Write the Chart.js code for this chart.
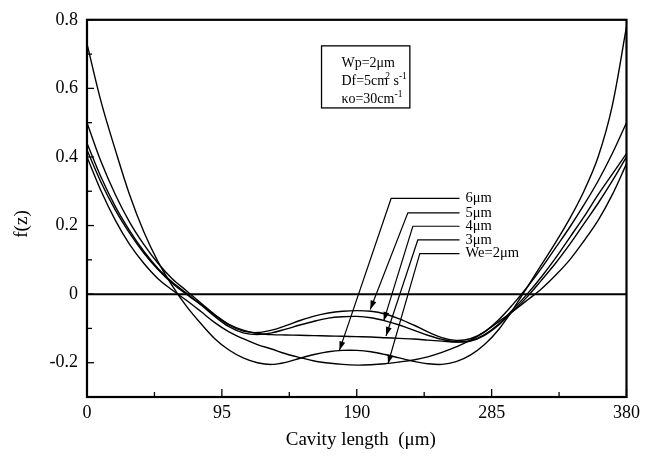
<!DOCTYPE html>
<html><head><meta charset="utf-8">
<script src="https://cdn.jsdelivr.net/npm/chart.js@4.4.0/dist/chart.umd.min.js"></script>
<style>html,body{margin:0;padding:0;background:#fff}</style>
</head><body>
<canvas id="c" width="645" height="457"></canvas>
<script>
// ---- data ----
const z = [0,10,20,30,40,50,60,70,80,90,100,110,120,130,140,150,160,170,180,190,200,210,220,230,240,250,260,270,280,290,300,310,320,330,340,350,360,370,380];
const we6 = [0.73,0.56,0.42,0.29,0.182,0.095,0.025,-0.035,-0.085,-0.13,-0.163,-0.186,-0.200,-0.205,-0.199,-0.187,-0.176,-0.168,-0.164,-0.164,-0.168,-0.176,-0.186,-0.196,-0.203,-0.205,-0.197,-0.178,-0.147,-0.103,-0.045,0.02,0.085,0.15,0.22,0.30,0.40,0.55,0.78];
const we5 = [0.50,0.385,0.29,0.21,0.145,0.09,0.045,0.01,-0.025,-0.06,-0.09,-0.108,-0.112,-0.105,-0.092,-0.077,-0.064,-0.055,-0.05,-0.048,-0.05,-0.058,-0.072,-0.09,-0.11,-0.127,-0.135,-0.13,-0.11,-0.075,-0.03,0.02,0.075,0.135,0.195,0.26,0.33,0.41,0.50];
const we4 = [0.44,0.34,0.255,0.185,0.125,0.075,0.035,0.003,-0.03,-0.065,-0.095,-0.113,-0.118,-0.113,-0.102,-0.09,-0.079,-0.07,-0.066,-0.065,-0.069,-0.078,-0.09,-0.105,-0.12,-0.132,-0.139,-0.136,-0.118,-0.087,-0.045,0.0,0.05,0.105,0.165,0.225,0.29,0.35,0.41];
const we3 = [0.42,0.325,0.245,0.178,0.12,0.072,0.032,0.0,-0.03,-0.06,-0.088,-0.105,-0.115,-0.118,-0.119,-0.12,-0.121,-0.122,-0.123,-0.124,-0.125,-0.127,-0.129,-0.131,-0.134,-0.137,-0.14,-0.137,-0.12,-0.09,-0.05,-0.008,0.04,0.09,0.145,0.205,0.265,0.33,0.40];
const we2 = [0.40,0.30,0.215,0.145,0.09,0.045,0.012,-0.018,-0.05,-0.083,-0.11,-0.13,-0.147,-0.16,-0.174,-0.185,-0.195,-0.201,-0.205,-0.207,-0.206,-0.203,-0.198,-0.192,-0.183,-0.17,-0.154,-0.135,-0.11,-0.08,-0.05,-0.018,0.015,0.055,0.10,0.155,0.215,0.29,0.38];
const seriesNames = ['6\u03bcm','5\u03bcm','4\u03bcm','3\u03bcm','We=2\u03bcm'];
const seriesValues = [we6, we5, we4, we3, we2];

const xTicks = [0,95,190,285,380];
const xLabels = ['0','95','190','285','380'];
const xMinor = [47.5,142.5,237.5,332.5];
const yTicks = [-0.2,0,0.2,0.4,0.6,0.8];
const yLabels = ['-0.2','0','0.2','0.4','0.6','0.8'];
const yMinor = [-0.3,-0.1,0.1,0.3,0.5,0.7];

// annotation leaders, in data coordinates: label point, bend point, arrow tip
const leaderLabelF = [0.279,0.237,0.198,0.158,0.118];
const leaderBendZ = [214.2,226.0,229.5,233.0,234.4];
const leaderTipZ = [177.8,199.5,209.0,210.6,212.0];
const leaderTipF = [-0.164,-0.045,-0.078,-0.122,-0.203];
const leaderEndZ = 262.4, leaderTextZ = 266.6;

const SERIF = '"Liberation Serif","Times New Roman",serif';

function runs(ctx, x, y, parts, size){
  let cx = x;
  parts.forEach(p=>{
    const s = p.sup ? size*0.68 : size;
    ctx.font = s + 'px ' + SERIF;
    const dy = p.sup ? -size*0.42 : 0;
    ctx.fillText(p.t, cx + (p.dx||0), y + dy);
    cx += ctx.measureText(p.t).width + (p.dx||0);
  });
}

const deco = {
  id:'deco',
  afterDatasetsDraw(chart){
    const {ctx, chartArea:a, scales:{x,y}} = chart;
    ctx.save();
    ctx.strokeStyle = '#000'; ctx.fillStyle = '#000';
    // zero line
    ctx.lineWidth = 2;
    const y0 = y.getPixelForValue(0);
    ctx.beginPath(); ctx.moveTo(a.left,y0); ctx.lineTo(a.right,y0); ctx.stroke();
    // frame
    ctx.lineWidth = 2.2;
    ctx.strokeRect(a.left, a.top, a.right-a.left, a.bottom-a.top);
    // ticks
    ctx.lineWidth = 1.3;
    const seg=(x1,y1,x2,y2)=>{ctx.beginPath();ctx.moveTo(x1,y1);ctx.lineTo(x2,y2);ctx.stroke();};
    xTicks.forEach(v=>{const p=x.getPixelForValue(v); seg(p,a.bottom,p,a.bottom-8);});
    xMinor.forEach(v=>{const p=x.getPixelForValue(v); seg(p,a.bottom,p,a.bottom-5);});
    yTicks.forEach(v=>{const p=y.getPixelForValue(v); seg(a.left,p,a.left+7,p);});
    yMinor.forEach(v=>{const p=y.getPixelForValue(v); seg(a.left,p,a.left+5,p);});

    // leaders and labels
    ctx.lineWidth = 1.2;
    ctx.textBaseline = 'middle'; ctx.textAlign = 'left';
    seriesNames.forEach((name,i)=>{
      const ly = y.getPixelForValue(leaderLabelF[i]);
      const ex = x.getPixelForValue(leaderEndZ);
      const bx = x.getPixelForValue(leaderBendZ[i]);
      const tx = x.getPixelForValue(leaderTipZ[i]);
      const ty = y.getPixelForValue(leaderTipF[i]);
      ctx.beginPath(); ctx.moveTo(ex,ly); ctx.lineTo(bx,ly); ctx.lineTo(tx,ty); ctx.stroke();
      const ang = Math.atan2(ty-ly, tx-bx);
      const L=9, W=3;
      ctx.beginPath();
      ctx.moveTo(tx,ty);
      ctx.lineTo(tx - L*Math.cos(ang) + W*Math.sin(ang), ty - L*Math.sin(ang) - W*Math.cos(ang));
      ctx.lineTo(tx - L*Math.cos(ang) - W*Math.sin(ang), ty - L*Math.sin(ang) + W*Math.cos(ang));
      ctx.closePath(); ctx.fill();
      ctx.font = '14.5px ' + SERIF;
      ctx.fillText(name, x.getPixelForValue(leaderTextZ), ly);
    });

    // inset box
    const bx0 = x.getPixelForValue(165.2), bx1 = x.getPixelForValue(227.4);
    const by0 = y.getPixelForValue(0.724), by1 = y.getPixelForValue(0.543);
    ctx.lineWidth = 1.3;
    ctx.strokeRect(bx0, by0, bx1-bx0, by1-by0);
    ctx.textBaseline = 'alphabetic';
    const tx0 = x.getPixelForValue(179.2);
    runs(ctx, tx0, y.getPixelForValue(0.661), [{t:'Wp=2\u03bcm'}], 14);
    runs(ctx, tx0, y.getPixelForValue(0.609), [{t:'Df=5cm'},{t:'2',sup:true,dx:-3},{t:' s'},{t:'-1',sup:true}], 14);
    runs(ctx, tx0, y.getPixelForValue(0.557), [{t:'\u03bao=30cm'},{t:'-1',sup:true}], 14);

    // axis titles
    ctx.font = '19px ' + SERIF;
    ctx.textAlign = 'center'; ctx.textBaseline = 'middle';
    ctx.fillText('Cavity length  (\u03bcm)', (a.left+a.right)/2 + 4, 440);
    ctx.save();
    ctx.translate(22, 224);
    ctx.rotate(-Math.PI/2);
    ctx.fillText('f(z)', 0, 0);
    ctx.restore();
    ctx.restore();
  }
};

new Chart(document.getElementById('c').getContext('2d'), {
  type:'line',
  data:{
    datasets: seriesValues.map((vals,i)=>({
      label: seriesNames[i],
      data: z.map((v,k)=>({x:v, y:vals[k]})),
      borderColor:'#000', borderWidth:1.4, pointRadius:0, fill:false,
      tension:0.35
    }))
  },
  options:{
    responsive:false, animation:false, devicePixelRatio:1,
    layout:{padding:{top:15,right:14,left:0,bottom:0}},
    plugins:{legend:{display:false}, tooltip:{enabled:false}},
    scales:{
      x:{type:'linear', min:0, max:380,
        afterBuildTicks:s=>{s.ticks = xTicks.map(v=>({value:v}));},
        afterFit:s=>{s.height = 60;},
        grid:{display:false, drawTicks:false}, border:{display:false},
        ticks:{color:'#000', font:{family:SERIF, size:18}, padding:5, maxRotation:0, autoSkip:false,
          callback:(v,i)=>xLabels[i]}
      },
      y:{type:'linear', min:-0.3, max:0.8,
        afterBuildTicks:s=>{s.ticks = yTicks.map(v=>({value:v}));},
        afterFit:s=>{s.width = 87;},
        grid:{display:false, drawTicks:false}, border:{display:false},
        ticks:{color:'#000', font:{family:SERIF, size:18}, padding:9, autoSkip:false,
          callback:(v,i)=>yLabels[i]}
      }
    }
  },
  plugins:[deco]
});
</script>
</body></html>
